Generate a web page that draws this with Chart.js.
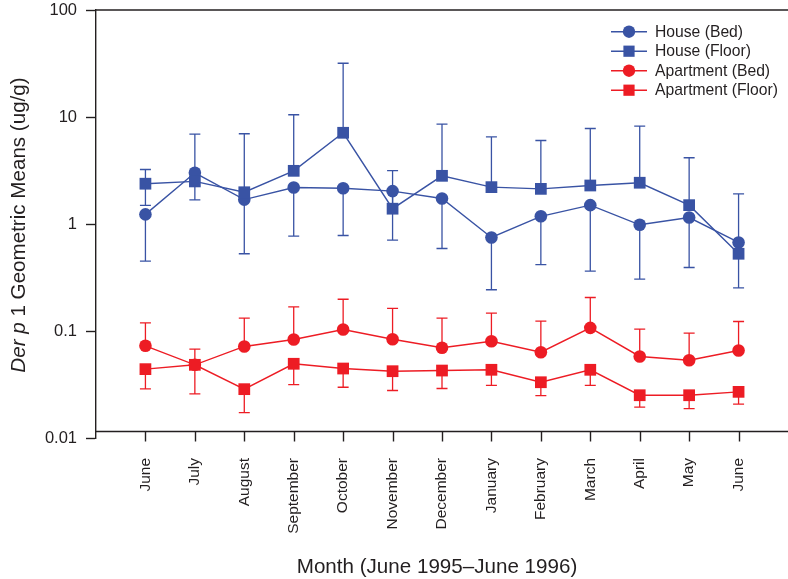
<!DOCTYPE html>
<html><head><meta charset="utf-8">
<script src="https://cdn.jsdelivr.net/npm/chart.js@4.4.1/dist/chart.umd.min.js"></script>
<style>html,body{margin:0;padding:0;background:#fff;}#wrap{width:788px;height:579px;position:relative;}</style>
</head><body><div id="wrap"><canvas id="c"></canvas></div>
<script>
const months = ['June','July','August','September','October','November','December','January','February','March','April','May','June'];
const yTicks = [0.01, 0.1, 1, 10, 100];
const seriesNames = ['House (Bed)', 'House (Floor)', 'Apartment (Bed)', 'Apartment (Floor)'];

const houseBed      = [1.23, 3.01, 1.69, 2.19, 2.16, 2.03, 1.73, 0.748, 1.18, 1.50, 0.983, 1.15, 0.672];
const houseBedLow   = [0.449, 1.68, 0.527, 0.769, 0.781, 0.706, 0.590, 0.243, 0.418, 0.362, 0.305, 0.392, 0.253];
const houseFloor    = [2.38, 2.50, 1.98, 3.14, 7.12, 1.39, 2.82, 2.21, 2.13, 2.29, 2.43, 1.50, 0.527];
const houseFloorHigh= [3.23, 6.91, 6.97, 10.5, 31.8, 3.16, 8.57, 6.53, 6.03, 7.81, 8.20, 4.16, 1.91];
const houseFloorLow = [1.49, null, null, null, null, null, null, null, null, null, null, null, null];
const aptBed        = [0.0727, 0.0483, 0.0717, 0.0833, 0.1033, 0.0838, 0.0697, 0.0803, 0.0634, 0.107, 0.0578, 0.0533, 0.0657];
const aptBedHigh    = [0.119, 0.0676, 0.1318, 0.168, 0.198, 0.163, 0.132, 0.1467, 0.1235, 0.2056, 0.104, 0.0954, 0.1227];
const aptFloor      = [0.044, 0.0483, 0.0286, 0.0494, 0.0446, 0.0421, 0.0427, 0.0434, 0.0332, 0.0434, 0.0251, 0.0251, 0.0270];
const aptFloorLow   = [0.0288, 0.0259, 0.0173, 0.0316, 0.0298, 0.0278, 0.029, 0.031, 0.0249, 0.031, 0.0194, 0.0188, 0.0207];

const BLUE = '#3953a4', RED = '#ed1c24', INK = '#231f20';
const FONT = "'Liberation Sans', Arial, Helvetica, sans-serif";
const toXY = arr => arr.map((v, i) => ({x: i, y: v}));

function mkSet(label, vals, color, style, r, low, high) {
  return {label, data: toXY(vals), borderColor: color, backgroundColor: color,
    pointBackgroundColor: color, pointBorderColor: color, pointBorderWidth: 0,
    pointStyle: style, pointRadius: r, pointHoverRadius: r, borderWidth: 1.4,
    tension: 0, fill: false, errLow: low, errHigh: high};
}

const datasets = [
  mkSet(seriesNames[3], aptFloor, RED, 'rect', 8.3, aptFloorLow, null),
  mkSet(seriesNames[2], aptBed, RED, 'circle', 6.3, null, aptBedHigh),
  mkSet(seriesNames[1], houseFloor, BLUE, 'rect', 8.3, houseFloorLow, houseFloorHigh),
  mkSet(seriesNames[0], houseBed, BLUE, 'circle', 6.3, houseBedLow, null),
];

const errorBars = {
  id: 'errorBars',
  beforeDatasetsDraw(chart) {
    const ctx = chart.ctx, xs = chart.scales.x, ys = chart.scales.y;
    ctx.save();
    chart.data.datasets.forEach(ds => {
      ctx.strokeStyle = ds.borderColor; ctx.lineWidth = 1.3;
      ds.data.forEach((p, i) => {
        const px = xs.getPixelForValue(p.x), py = ys.getPixelForValue(p.y);
        [ds.errLow, ds.errHigh].forEach(arr => {
          if (!arr || arr[i] == null) return;
          const ey = ys.getPixelForValue(arr[i]);
          ctx.beginPath(); ctx.moveTo(px, py); ctx.lineTo(px, ey);
          ctx.moveTo(px - 5.5, ey); ctx.lineTo(px + 5.5, ey); ctx.stroke();
        });
      });
    });
    ctx.restore();
  }
};

const decorations = {
  id: 'decorations',
  afterDraw(chart) {
    const ctx = chart.ctx, a = chart.chartArea, xs = chart.scales.x, ys = chart.scales.y;
    ctx.save();
    ctx.strokeStyle = INK; ctx.lineWidth = 1.4;
    const topY = ys.getPixelForValue(100);
    ctx.beginPath(); ctx.moveTo(a.left, topY); ctx.lineTo(a.right, topY); ctx.stroke();
    const axY = a.bottom - 6.5;
    ctx.beginPath(); ctx.moveTo(a.left, axY); ctx.lineTo(a.right, axY); ctx.stroke();
    months.forEach((m, i) => {
      const px = Math.round(xs.getPixelForValue(i)) + 0.5;
      ctx.beginPath(); ctx.moveTo(px, axY); ctx.lineTo(px, axY + 10); ctx.stroke();
    });
    ctx.fillStyle = INK;
    ctx.font = '20.6px ' + FONT;
    ctx.textAlign = 'center'; ctx.textBaseline = 'middle';
    ctx.fillText('Month (June 1995\u2013June 1996)', (a.left + a.right) / 2 - 5, 567);
    ctx.save();
    ctx.translate(19, 225); ctx.rotate(-Math.PI / 2);
    const partA = 'Der p', partB = ' 1 Geometric Means (ug/g)';
    ctx.font = 'italic 20.6px ' + FONT; const wA = ctx.measureText(partA).width;
    ctx.font = '20.6px ' + FONT; const wB = ctx.measureText(partB).width;
    let x0 = -(wA + wB) / 2;
    ctx.textAlign = 'left';
    ctx.font = 'italic 20.6px ' + FONT; ctx.fillText(partA, x0, 0);
    ctx.font = '20.6px ' + FONT; ctx.fillText(partB, x0 + wA, 0);
    ctx.restore();
    const order = [3, 2, 1, 0];
    order.forEach((di, row) => {
      const ds = chart.data.datasets[di];
      const ly = 31.7 + row * 19.5, lx = a.right - 177;
      ctx.strokeStyle = ds.borderColor; ctx.fillStyle = ds.borderColor; ctx.lineWidth = 1.4;
      ctx.beginPath(); ctx.moveTo(lx, ly); ctx.lineTo(lx + 36, ly); ctx.stroke();
      const cx = lx + 18;
      if (ds.pointStyle === 'circle') { ctx.beginPath(); ctx.arc(cx, ly, 6.2, 0, Math.PI * 2); ctx.fill(); }
      else { ctx.fillRect(cx - 5.6, ly - 5.6, 11.2, 11.2); }
      ctx.fillStyle = INK; ctx.font = '15.7px ' + FONT; ctx.textAlign = 'left'; ctx.textBaseline = 'middle';
      ctx.fillText(ds.label, lx + 44, ly + 0.5);
    });
    ctx.restore();
  }
};

new Chart(document.getElementById('c'), {
  type: 'line',
  data: {datasets},
  options: {
    responsive: true, maintainAspectRatio: false, animation: false,
    layout: {autoPadding: false, padding: {top: 10, right: 0, bottom: 0, left: 0}},
    plugins: {legend: {display: false}, tooltip: {enabled: false}},
    scales: {
      x: {
        type: 'linear', min: -1, max: 13,
        afterFit: s => { s.height = 141; s.paddingLeft = 0; s.paddingRight = 0; },
        grid: {display: true, drawOnChartArea: false, drawTicks: false, color: 'rgba(0,0,0,0)'},
        border: {display: false},
        afterBuildTicks: s => { s.ticks = months.map((m, i) => ({value: i})); },
        ticks: {
          autoSkip: false, minRotation: 90, maxRotation: 90, padding: 20,
          color: INK, font: {family: FONT, size: 15.5, lineHeight: 0.1},
          callback: v => months[v] ?? ''
        }
      },
      y: {
        type: 'logarithmic', min: 0.01, max: 100,
        afterFit: s => { s.width = 96; s.paddingTop = 0; s.paddingBottom = 0; },
        afterBuildTicks: s => { s.ticks = yTicks.map(v => ({value: v})); },
        grid: {display: true, drawOnChartArea: false, drawTicks: true, tickLength: 10, tickColor: INK, tickWidth: 1.4},
        border: {display: true, color: INK, width: 1.4},
        ticks: {padding: 9, color: INK, font: {family: FONT, size: 16.5},
          callback: v => String(v)}
      }
    }
  },
  plugins: [errorBars, decorations]
});
</script></body></html>
